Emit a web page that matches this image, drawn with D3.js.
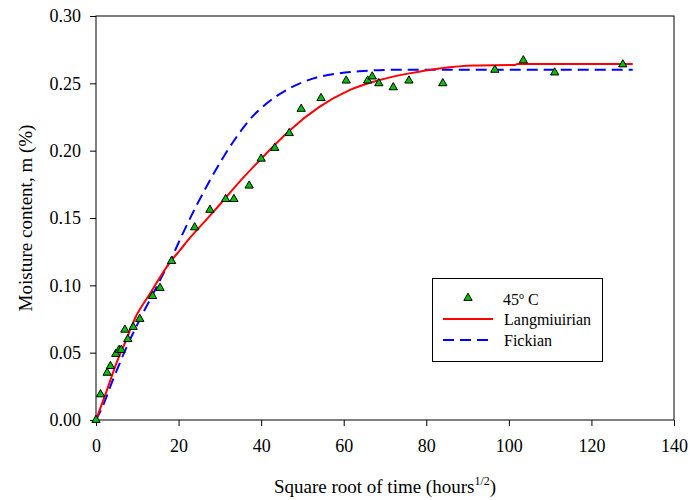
<!DOCTYPE html>
<html>
<head>
<meta charset="utf-8">
<script src="https://cdn.jsdelivr.net/npm/d3@7"></script>
<style>
  body { margin: 0; background: #fff; }
  text { font-family: "Liberation Serif", "Times New Roman", serif; }
</style>
</head>
<body>
<div id="chart"></div>
<script>
// measured points, 45 C
const sqrtTime = [0, 1.1, 2.7, 3.5, 4.8, 5.6, 6.1, 7.0, 7.7, 9.0, 10.6, 13.7, 15.5, 18.3,
  23.9, 27.6, 31.4, 33.4, 37.1, 40.0, 43.3, 46.8, 49.7, 54.5, 60.6, 65.8, 66.9, 68.5,
  72.0, 75.8, 84.0, 96.6, 103.5, 111.1, 127.6];
const moisture = [0, 0.019, 0.035, 0.040, 0.049, 0.052, 0.052, 0.067, 0.060, 0.069, 0.075,
  0.092, 0.098, 0.118, 0.143, 0.156, 0.164, 0.164, 0.174, 0.194, 0.202, 0.213, 0.231,
  0.239, 0.252, 0.252, 0.255, 0.250, 0.247, 0.252, 0.250, 0.260, 0.267, 0.258, 0.264];

// Langmuirian fit
const langX = [0, 2.4, 4.8, 7.25, 9.7, 12.9, 14.5, 17.9, 20.3, 22.7, 26.8, 30.0, 34.8,
  39.7, 43.7, 46.9, 54.2, 61.4, 68.7, 75.9, 83.2, 91.6, 101.5, 102.0, 130];
const langY = [0, 0.020, 0.041, 0.059, 0.077, 0.093, 0.101, 0.117, 0.126, 0.135, 0.149,
  0.160, 0.177, 0.193, 0.2055, 0.2150, 0.2327, 0.2450, 0.2525, 0.2574, 0.2611, 0.2633,
  0.2636, 0.2643, 0.2643];

// Fickian fit
const fickX = [0, 1.6, 4.0, 7.25, 10.5, 13.7, 15.7, 18.7, 21.1, 24.3, 27.6, 30.8, 34.0,
  37.2, 41.3, 46.1, 52.5, 59.0, 63.8, 71.9, 130];
const fickY = [0, 0.010, 0.029, 0.053, 0.074, 0.093, 0.105, 0.123, 0.139, 0.159, 0.178,
  0.195, 0.210, 0.223, 0.235, 0.245, 0.2535, 0.2575, 0.2590, 0.2600, 0.2600];

const xTicks = [0, 20, 40, 60, 80, 100, 120, 140];
const yTicks = [0, 0.05, 0.10, 0.15, 0.20, 0.25, 0.30];

const width = 691;
const height = 500;
const margin = { top: 16, right: 17, bottom: 80, left: 96 };

const svg = d3.select("#chart")
  .append("svg")
  .attr("width", width)
  .attr("height", height);

const xScale = d3.scaleLinear()
  .domain([0, 140])
  .range([margin.left, width - margin.right]);

const yScale = d3.scaleLinear()
  .domain([0, 0.30])
  .range([height - margin.bottom, margin.top]);

// axes
const xAxis = d3.axisBottom(xScale)
  .tickValues(xTicks)
  .tickSizeInner(6)
  .tickSizeOuter(0)
  .tickPadding(13)
  .tickFormat(d3.format("d"));

const yAxis = d3.axisLeft(yScale)
  .tickValues(yTicks)
  .tickSizeInner(6)
  .tickSizeOuter(0)
  .tickPadding(9)
  .tickFormat(d3.format(".2f"));

const gx = svg.append("g")
  .attr("transform", `translate(0, ${height - margin.bottom})`)
  .call(xAxis);

const gy = svg.append("g")
  .attr("transform", `translate(${margin.left}, 0)`)
  .call(yAxis);

[gx, gy].forEach(function(g) {
  g.select(".domain").remove();
  g.selectAll(".tick line").attr("stroke", "#000");
  g.selectAll(".tick text")
    .attr("fill", "#000")
    .style("font-size", "18px")
    .style("font-family", "'Liberation Serif', serif");
});

// frame
svg.append("rect")
  .attr("x", xScale(0))
  .attr("y", yScale(0.30))
  .attr("width", xScale(140) - xScale(0))
  .attr("height", yScale(0) - yScale(0.30))
  .attr("fill", "none")
  .attr("stroke", "#000")
  .attr("stroke-width", 1);

// fitted curves
const line = d3.line()
  .x(function(d) { return xScale(d[0]); })
  .y(function(d) { return yScale(d[1]); })
  .curve(d3.curveMonotoneX);

svg.append("path")
  .datum(fickX.map(function(x, i) { return [x, fickY[i]]; }))
  .attr("d", line)
  .attr("fill", "none")
  .attr("stroke", "#0000ff")
  .attr("stroke-width", 2)
  .attr("stroke-dasharray", "11,6");

svg.append("path")
  .datum(langX.map(function(x, i) { return [x, langY[i]]; }))
  .attr("d", line)
  .attr("fill", "none")
  .attr("stroke", "#ff0000")
  .attr("stroke-width", 2);

// measured points
const triangle = d3.symbol().type(d3.symbolTriangle).size(30);

svg.selectAll(".pt")
  .data(sqrtTime)
  .enter()
  .append("path")
  .attr("class", "pt")
  .attr("d", triangle)
  .attr("transform", function(d, i) {
    return `translate(${xScale(d)}, ${yScale(moisture[i])})`;
  })
  .attr("fill", "#00c000")
  .attr("stroke", "#000")
  .attr("stroke-width", 1);

// axis titles
const xTitle = svg.append("text")
  .attr("x", (xScale(0) + xScale(140)) / 2)
  .attr("y", 493)
  .attr("text-anchor", "middle")
  .style("font-size", "19px")
  .text("Square root of time (hours");
xTitle.append("tspan")
  .attr("dy", -8)
  .style("font-size", "12px")
  .text("1/2");
xTitle.append("tspan")
  .attr("dy", 8)
  .text(")");

svg.append("text")
  .attr("transform", `translate(32, ${(yScale(0) + yScale(0.30)) / 2}) rotate(-90)`)
  .attr("text-anchor", "middle")
  .style("font-size", "19px")
  .text("Moisture content, m (%)");

// legend
const legend = svg.append("g");

legend.append("rect")
  .attr("x", 432.5)
  .attr("y", 278.5)
  .attr("width", 170)
  .attr("height", 83)
  .attr("fill", "#fff")
  .attr("stroke", "#000");

legend.append("path")
  .attr("d", triangle)
  .attr("transform", "translate(468, 298)")
  .attr("fill", "#00c000")
  .attr("stroke", "#000");

legend.append("line")
  .attr("x1", 443).attr("x2", 493)
  .attr("y1", 319).attr("y2", 319)
  .attr("stroke", "#ff0000")
  .attr("stroke-width", 2);

legend.append("line")
  .attr("x1", 443).attr("x2", 489)
  .attr("y1", 340).attr("y2", 340)
  .attr("stroke", "#0000ff")
  .attr("stroke-width", 2)
  .attr("stroke-dasharray", "11,6");

const t1 = legend.append("text")
  .attr("x", 503)
  .attr("y", 305)
  .style("font-size", "16px")
  .text("45");
t1.append("tspan").attr("dy", -6).style("font-size", "10px").text("o");
t1.append("tspan").attr("dy", 6).text(" C");

legend.append("text")
  .attr("x", 504)
  .attr("y", 325)
  .style("font-size", "16px")
  .text("Langmiuirian");

legend.append("text")
  .attr("x", 504)
  .attr("y", 346)
  .style("font-size", "16px")
  .text("Fickian");
</script>
</body>
</html>
